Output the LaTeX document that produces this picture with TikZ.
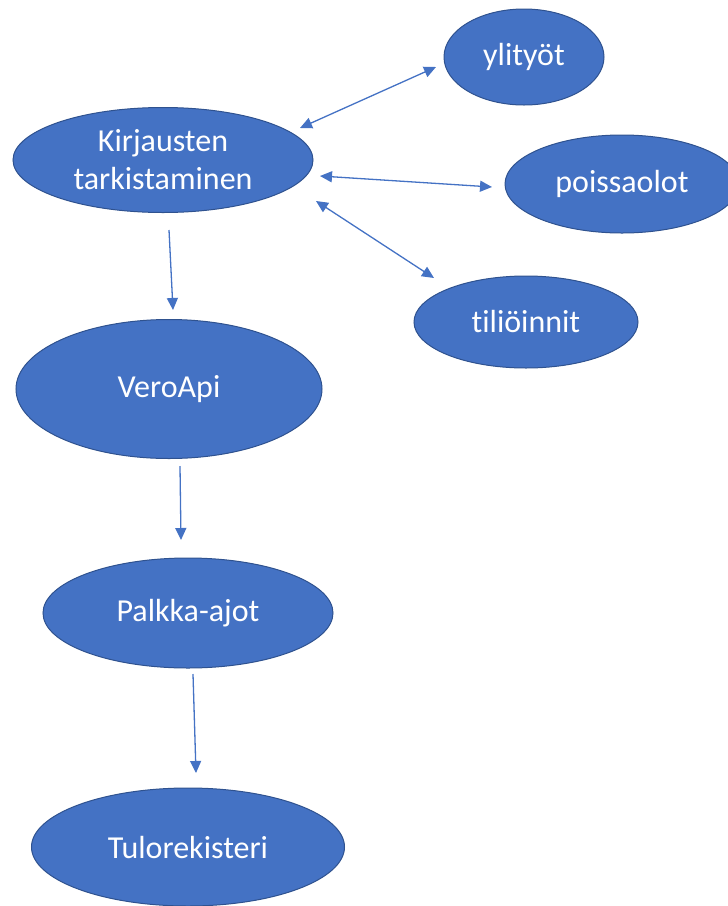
\documentclass[tikz,border=0pt]{standalone}
\usepackage{fontspec}
\setmainfont{Carlito}[Ligatures={NoCommon}]
\usetikzlibrary{shapes.geometric,arrows.meta}

\definecolor{officeblue}{HTML}{4472C4}
\definecolor{edgeblue}{HTML}{2F528F}

\begin{document}
\begin{tikzpicture}[x=0.5pt,y=-0.5pt,>={Triangle[length=6pt,width=5.5pt]},
    every edge/.style={draw=officeblue,line width=0.65pt},
    blob/.style={ellipse,fill=officeblue,draw=edgeblue,line width=0.5pt,
        inner sep=0pt,text=white,font=\fontsize{16}{19}\selectfont,align=center}]

\useasboundingbox (0,0) rectangle (728,906);

\node (kirj) at (163,160) [blob, minimum width=150pt, minimum height=52.5pt] {Kirjausten\\tarkistaminen};
\node (yli) at (524,57) [blob, minimum width=80pt, minimum height=48pt] {ylityöt};
\node (poissa) at (622,184) [blob, minimum width=117pt, minimum height=49pt] {poissaolot};
\node (tili) at (526,322) [blob, minimum width=112pt, minimum height=46pt] {tiliöinnit};
\node (vero) at (169,389) [blob, minimum width=153pt, minimum height=69.5pt] {VeroApi};
\node (palkka) at (188,613) [blob, minimum width=145pt, minimum height=55pt] {Palkka-ajot};
\node (tulo) at (188,847) [blob, minimum width=156.5pt, minimum height=59pt] {Tulorekisteri};

% arrow ends
\coordinate (kirjNE) at (300,128);
\coordinate (kirjE) at (320,176);
\coordinate (kirjSE) at (316,201);
\coordinate (kirjS) at (169,230);
\coordinate (yliW) at (436,67);
\coordinate (poissaW) at (492,187);
\coordinate (tiliNW) at (434,278);
\coordinate (veroN) at (173,310);
\coordinate (veroS) at (180,466);
\coordinate (palkkaN) at (181,540);
\coordinate (palkkaS) at (193,674);
\coordinate (tuloN) at (196,773);

\path [<->]
    (kirjNE) edge (yliW)
    (kirjE) edge (poissaW)
    (kirjSE) edge (tiliNW)
;
\path [->]
    (kirjS) edge (veroN)
    (veroS) edge (palkkaN)
    (palkkaS) edge (tuloN)
;

\end{tikzpicture}
\end{document}
